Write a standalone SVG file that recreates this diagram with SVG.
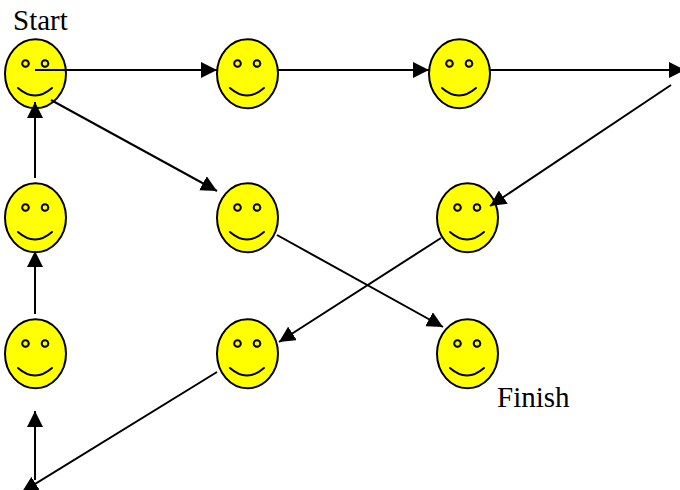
<svg xmlns="http://www.w3.org/2000/svg" xmlns:xlink="http://www.w3.org/1999/xlink" width="680" height="490" viewBox="0 0 680 490">
<style>
.l{stroke:#000;stroke-width:2;fill:none;marker-end:url(#a)}
.f ellipse.b{fill:#ff0;stroke:#000;stroke-width:2}
.f circle{fill:none;stroke:#000;stroke-width:2}
.f path{fill:none;stroke:#000;stroke-width:2;stroke-linecap:round}
text{font-family:"Liberation Serif","Times New Roman",serif;font-size:29px;fill:#000}
</style>
<defs>
<marker id="a" markerUnits="userSpaceOnUse" markerWidth="18" markerHeight="16" refX="16" refY="8" orient="auto"><path d="M0 0L16 8L0 16Z" fill="#000"/></marker>
<g id="s" class="f"><ellipse class="b" cx="30.500" cy="34.800" rx="30.500" ry="34.500"/><circle cx="20.500" cy="24.500" r="3.300"/><circle cx="40" cy="24.500" r="3.300"/><path d="M13 49Q30 64 47 49"/></g>
</defs>
<g id="n1"><use xlink:href="#s" href="#s" x="5" y="39"/></g>
<g id="n2"><use xlink:href="#s" href="#s" x="217" y="39"/></g>
<g id="n3"><use xlink:href="#s" href="#s" x="429" y="39"/></g>
<g id="n4"><use xlink:href="#s" href="#s" x="5" y="183"/></g>
<g id="n5"><use xlink:href="#s" href="#s" x="217" y="183"/></g>
<g id="n6"><use xlink:href="#s" href="#s" x="437" y="183"/></g>
<g id="n7"><use xlink:href="#s" href="#s" x="5" y="319"/></g>
<g id="n8"><use xlink:href="#s" href="#s" x="217" y="319"/></g>
<g id="n9"><use xlink:href="#s" href="#s" x="437" y="319"/></g>
<g id="connectors">
<path class="l" d="M35 70H217"/>
<path class="l" d="M278 70H429"/>
<path class="l" d="M490 70H685"/>
<path class="l" d="M671 85L490 206"/>
<path class="l" d="M441 238L279 342"/>
<path class="l" d="M217 372L22 492"/>
<path class="l" d="M35 480V411"/>
<path class="l" d="M35 314V251"/>
<path class="l" d="M35 178V102"/>
<path class="l" d="M51 100L217 191"/>
<path class="l" d="M277 235L443 327"/>
</g>
<text x="13" y="30">Start</text>
<text x="497" y="407">Finish</text>
</svg>
